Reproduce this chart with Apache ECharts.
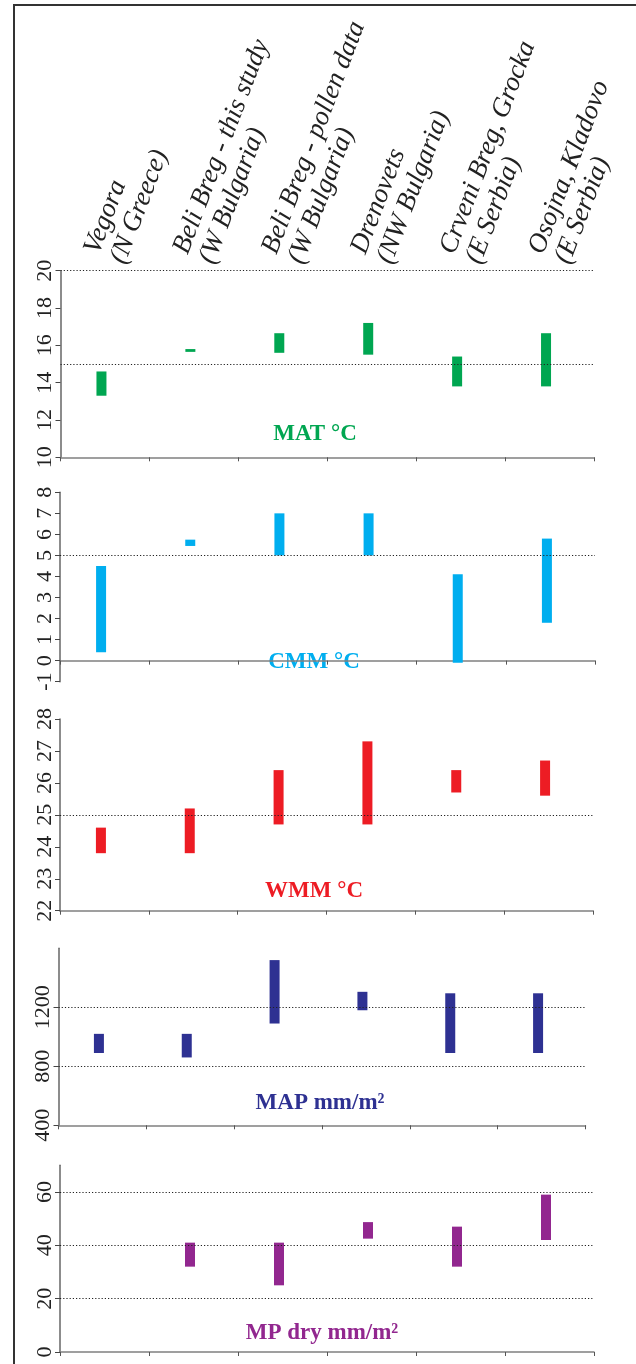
<!DOCTYPE html>
<html>
<head>
<meta charset="utf-8">
<script src="https://cdn.jsdelivr.net/npm/echarts@6/dist/echarts.min.js"></script>
<style>
html,body{margin:0;padding:0;background:#fff;}
#c{width:636px;height:1364px;}
</style>
</head>
<body>
<div id="c"></div>
<script>
// ---- data ----
const categories = [
  'Vegora\n(N Greece)',
  'Beli Breg - this study\n(W Bulgaria)',
  'Beli Breg - pollen data\n(W Bulgaria)',
  'Drenovets\n(NW Bulgaria)',
  'Crveni Breg, Grocka\n(E Serbia)',
  'Osojna, Kladovo\n(E Serbia)'
];
const matLow  = [13.3, 15.65, 15.6, 15.5, 13.8, 13.8];
const matHigh = [14.6, 15.8, 16.65, 17.2, 15.4, 16.65];
const cmmLow  = [0.4, 5.45, 5.0, 5.0, -0.1, 1.8];
const cmmHigh = [4.5, 5.75, 7.0, 7.0, 4.1, 5.8];
const wmmLow  = [23.8, 23.8, 24.7, 24.7, 25.7, 25.6];
const wmmHigh = [24.6, 25.2, 26.4, 27.3, 26.4, 26.7];
const mapLow  = [890, 860, 1090, 1180, 890, 890];
const mapHigh = [1020, 1020, 1520, 1305, 1295, 1295];
const mpLow   = [null, 32, 25, 42.5, 32, 42];
const mpHigh  = [null, 41, 41, 48.7, 47, 59];

const matRefs = [20, 15];
const cmmRefs = [5];
const wmmRefs = [25];
const mapRefs = [800, 1200];
const mpRefs  = [20, 40, 60];

const panelTitles = ['MAT \u00B0C', 'CMM \u00B0C', 'WMM \u00B0C', 'MAP mm/m\u00B2', 'MP dry mm/m\u00B2'];

// ---- styles / layout ----
const colors = ['#00A651', '#00AEEF', '#ED1C24', '#2E3192', '#92278F'];
const grids = [
  {left: 60.5, top: 270.7, width: 533.5, height: 186.6},
  {left: 60, top: 492.3, width: 535, height: 189.4},
  {left: 60, top: 719, width: 533, height: 191.7},
  {left: 58.5, top: 948.3, width: 527, height: 177},
  {left: 60, top: 1165.3, width: 534, height: 186.7}
];
const axes = [
  {min: 10, max: 20, interval: 2, showMax: true},
  {min: -1, max: 8, interval: 1, showMax: true},
  {min: 22, max: 28, interval: 1, showMax: true},
  {min: 400, max: 1600, interval: 400, showMax: false},
  {min: 0, max: 70, interval: 20, showMax: false}
];
const titlePos = [[315, 434], [314, 662], [314, 891], [320, 1103], [322, 1333]];
const lows = [matLow, cmmLow, wmmLow, mapLow, mpLow];
const highs = [matHigh, cmmHigh, wmmHigh, mapHigh, mpHigh];
const refs = [matRefs, cmmRefs, wmmRefs, mapRefs, mpRefs];

const BAR_W = 10;
const FONT = 'Liberation Serif, Times New Roman, serif';

const xAxis = [], yAxis = [], series = [], graphic = [];

grids.forEach((g, i) => {
  xAxis.push({
    type: 'category', gridIndex: i, data: categories, position: 'bottom',
    axisLine: {show: true, lineStyle: {color: '#808080', width: 1.5}},
    axisTick: {show: true, interval: 0, length: 4, lineStyle: {color: '#555'}},
    axisLabel: {show: false, interval: 0}, splitLine: {show: false}
  });
  yAxis.push({
    type: 'value', gridIndex: i, min: axes[i].min, max: axes[i].max, interval: axes[i].interval,
    axisLine: {show: true, lineStyle: {color: '#666', width: 1.5}},
    axisTick: {show: true, length: 5, lineStyle: {color: '#444'}},
    axisLabel: {show: true, rotate: 90, margin: 4, fontFamily: FONT, fontSize: 22, color: '#222',
                showMaxLabel: axes[i].showMax, formatter: v => String(v)},
    splitLine: {show: false}
  });
  const low = lows[i].map(v => v == null ? '-' : v);
  const rng = highs[i].map((v, k) => (v == null || lows[i][k] == null) ? '-' : +(v - lows[i][k]).toFixed(3));
  series.push({
    type: 'bar', xAxisIndex: i, yAxisIndex: i, stack: 'p' + i, stackStrategy: 'all',
    data: low, barWidth: BAR_W, barGap: '-30%', silent: true,
    itemStyle: {color: 'rgba(0,0,0,0)'}
  });
  series.push({
    type: 'bar', xAxisIndex: i, yAxisIndex: i, stack: 'p' + i, stackStrategy: 'all',
    data: rng, barWidth: BAR_W, barGap: '-30%', silent: true,
    itemStyle: {color: colors[i]},
    markLine: {
      silent: true, symbol: 'none', animation: false,
      label: {show: false},
      lineStyle: {type: [1.2, 2], color: '#222', width: 1.2},
      data: refs[i].map(v => ({yAxis: v}))
    }
  });
  series.push({
    type: 'bar', xAxisIndex: i, yAxisIndex: i, stack: 'd' + i,
    data: [], barWidth: BAR_W, barGap: '-30%', silent: true
  });
  graphic.push({
    type: 'text', x: titlePos[i][0], y: titlePos[i][1], silent: true,
    style: {text: panelTitles[i], fill: colors[i], font: 'bold 23px ' + FONT,
            align: 'center', verticalAlign: 'middle'}
  });
});

// header labels on top of first panel
xAxis.push({
  type: 'category', gridIndex: 0, data: categories, position: 'top',
  axisLine: {show: false}, axisTick: {show: false}, splitLine: {show: false},
  axisLabel: {show: true, interval: 0, rotate: -69, margin: 13, fontFamily: FONT,
              fontStyle: 'italic', fontSize: 27, lineHeight: 28, color: '#222',
              align: 'left', verticalAlign: 'middle',
              padding: [0, 0, 18, 0]}
});

// frame
graphic.push({
  type: 'polyline', silent: true,
  shape: {points: [[14, 1364], [14, 5], [636, 5]]},
  style: {stroke: '#333', lineWidth: 2, fill: null}
});

const chart = echarts.init(document.getElementById('c'), null, {renderer: 'canvas'});
chart.setOption({
  animation: false,
  backgroundColor: '#fff',
  grid: grids.map(g => Object.assign({outerBoundsMode: 'none', containLabel: false}, g)),
  xAxis, yAxis, series, graphic
});
</script>
</body>
</html>
